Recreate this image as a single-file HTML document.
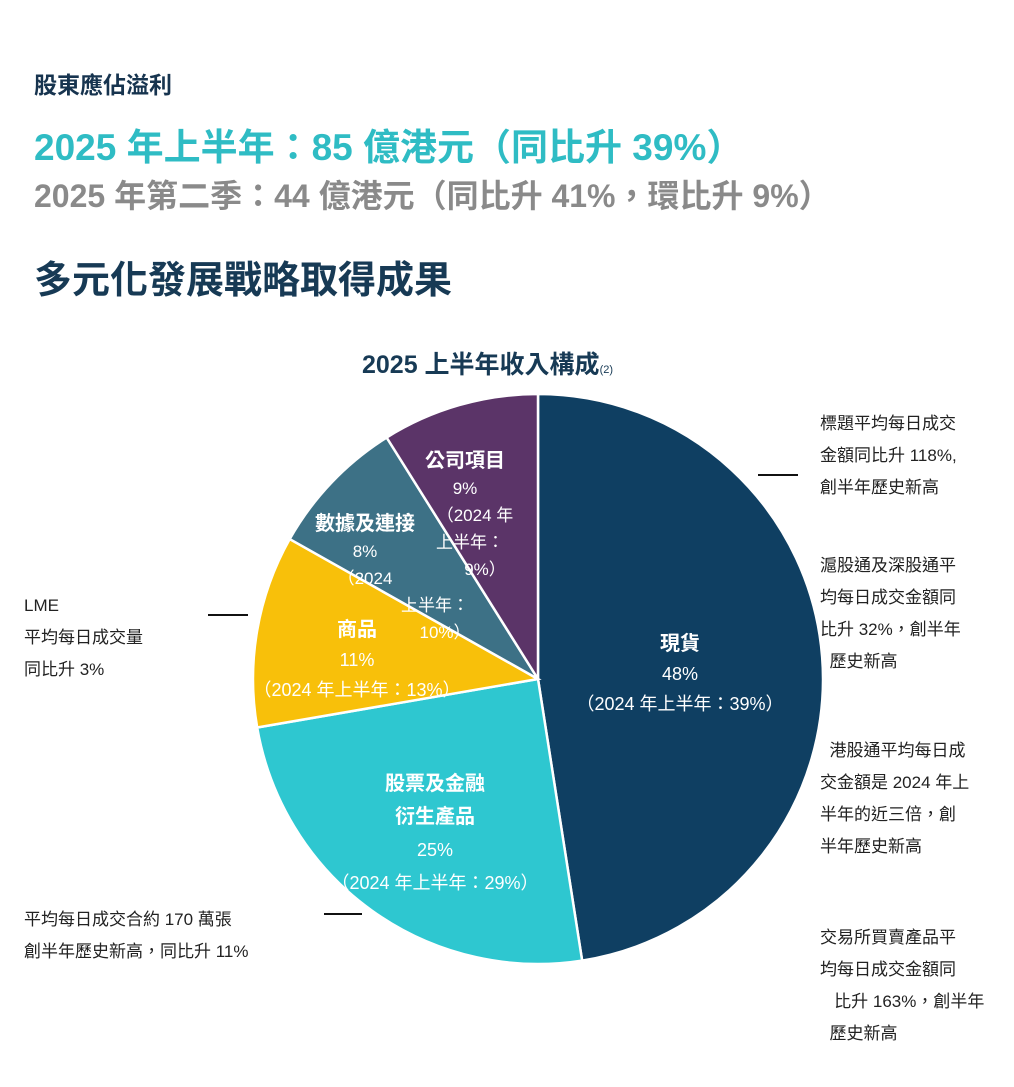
<!DOCTYPE html>
<html><head><meta charset="utf-8"><style>
body{margin:0;width:1014px;height:1087px;background:#fff;position:relative;overflow:hidden;font-family:"Liberation Sans","Noto Sans CJK TC",sans-serif}
.t{position:absolute;white-space:nowrap;font-weight:bold}
.n{position:absolute;white-space:nowrap;font-size:17px;line-height:32px;color:#222}
.ln{position:absolute;height:2px;background:#111}
</style></head><body>
<div class="t" style="left:34px;top:66px;font-size:23px;color:#17344f">股東應佔溢利</div>
<div class="t" style="left:34px;top:117px;font-size:37px;color:#2fbcc4">2025 年上半年：85 億港元（同比升 39%）</div>
<div class="t" style="left:34px;top:171px;font-size:32px;color:#8a8a8a">2025 年第二季：44 億港元（同比升 41%，環比升 9%）</div>
<div class="t" style="left:34px;top:249px;font-size:38px;color:#173a55">多元化發展戰略取得成果</div>
<div class="t" style="left:362px;top:345px;font-size:25px;color:#173a55">2025 上半年收入構成<span style="font-size:11px;font-weight:normal">(2)</span></div>
<svg id="pie" width="1014" height="1087" style="position:absolute;left:0;top:0"></svg>
<div class="n" style="left:820px;top:408px">標題平均每日成交<br>金額同比升 118%,<br>創半年歷史新高</div>
<div class="ln" style="left:758px;top:474px;width:40px"></div>
<div class="n" style="left:820px;top:550px">滬股通及深股通平<br>均每日成交金額同<br>比升 32%，創半年<br>&nbsp;&nbsp;歷史新高</div>
<div class="n" style="left:820px;top:735px">&nbsp;&nbsp;港股通平均每日成<br>交金額是 2024 年上<br>半年的近三倍，創<br>半年歷史新高</div>
<div class="n" style="left:820px;top:922px">交易所買賣產品平<br>均每日成交金額同<br>&nbsp;&nbsp;&nbsp;比升 163%，創半年<br>&nbsp;&nbsp;歷史新高</div>
<div class="n" style="left:24px;top:590px">LME<br>平均每日成交量<br>同比升 3%</div>
<div class="ln" style="left:208px;top:614px;width:40px"></div>
<div class="n" style="left:24px;top:904px">平均每日成交合約 170 萬張<br>創半年歷史新高，同比升 11%</div>
<div class="ln" style="left:324px;top:913px;width:38px"></div>
<script>
const categories=["現貨","股票及金融衍生產品","商品","數據及連接","公司項目"];
const shares=[48,25,11,8,9];
const prevShares=[39,29,13,10,9];
const colors=["#0f3f62","#2ec7d0","#f8c00a","#3d7186","#5b3468"];
const svg=document.getElementById('pie');
const NS="http://www.w3.org/2000/svg";
const cx=538,cy=679,r=285;
const total=shares.reduce((a,b)=>a+b,0);
function pt(a,rr){return [cx+rr*Math.sin(a),cy-rr*Math.cos(a)];}
let a0=0;
shares.forEach((v,i)=>{
 const a1=a0+v/total*2*Math.PI;
 const p0=pt(a0,r),p1=pt(a1,r);
 const large=(a1-a0)>Math.PI?1:0;
 const p=document.createElementNS(NS,'path');
 p.setAttribute('d',`M${cx},${cy}L${p0[0]},${p0[1]}A${r},${r} 0 ${large} 1 ${p1[0]},${p1[1]}Z`);
 p.setAttribute('fill',colors[i]);p.setAttribute('stroke','#fff');p.setAttribute('stroke-width','2.5');
 
 
 svg.appendChild(p);
 a0=a1;
});
const labelPos=[[680,650],[435,790],[357,636],[365,530],[465,467]];
const labelLines=[
 [[categories[0],1],[shares[0]+"%",0],["（2024 年上半年："+prevShares[0]+"%）",0]],
 [["股票及金融",1],["衍生產品",1],[shares[1]+"%",0],["（2024 年上半年："+prevShares[1]+"%）",0]],
 [[categories[2],1],[shares[2]+"%",0],["（2024 年上半年："+prevShares[2]+"%）",0]],
 [[categories[3],1],[shares[3]+"%",0],["（2024",0],["上半年：",0],[prevShares[3]+"%）",0]],
 [[categories[4],1],[shares[4]+"%",0],["（2024 年",0],["上半年：",0],[prevShares[4]+"%）",0]]
];
const offs=[[0,0,0],[0,0,0,0],[0,0,0],[0,0,0,70,80],[0,0,10,5,20]];
labelLines.forEach((lines,i)=>{
 lines.forEach((l,j)=>{
  const t=document.createElementNS(NS,'text');
  t.setAttribute('x',labelPos[i][0]+(offs[i][j]||0));
  t.setAttribute('y',labelPos[i][1]+j*(i==1?33:(i>=3?27:30)));
  t.setAttribute('text-anchor','middle');
  t.setAttribute('fill','#fff');
  t.setAttribute('font-size',l[1]?20:(i>=3?17:18));
  if(l[1])t.setAttribute('font-weight','bold');
  t.setAttribute('font-family','"Liberation Sans","Noto Sans CJK TC",sans-serif');
  t.textContent=l[0];
  
  
  svg.appendChild(t);
 });
});
</script>
</body></html>
